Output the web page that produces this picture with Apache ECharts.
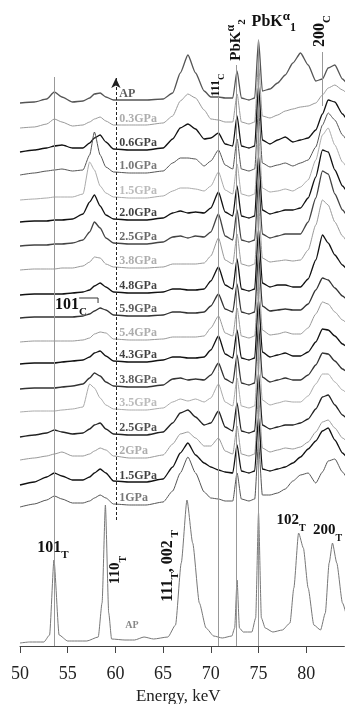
<!DOCTYPE html>
<html><head><meta charset="utf-8">
<script src="https://cdn.jsdelivr.net/npm/echarts@6/dist/echarts.min.js"></script>
<style>html,body{margin:0;padding:0;background:#fff}#c{width:345px;height:704px}</style>
</head><body><div id="c"></div>
<script>
// Energy grid (keV) shared by the stacked spectra
const energies = [50,51.5,52.8,53.6,54.4,55.5,56.6,57.3,57.8,58.4,59.0,59.8,61.5,63.2,65.0,66.0,66.8,67.6,68.4,69.3,70.0,70.8,71.5,72.3,72.75,73.2,74.0,74.6,75.0,75.4,76.2,77.0,77.8,78.6,79.4,80.2,81.0,81.7,82.3,83.0,83.8,84.6,85.4];
const curveNames = ['AP','0.3GPa','0.6GPa','1.0GPa','1.5GPa','2.0GPa','2.5GPa','3.8GPa','4.8GPa','5.9GPa','5.4GPa','4.3GPa','3.8GPa','3.5GPa','2.5GPa','2GPa','1.5GPa','1GPa'];
const offsets = [543,518,494,471,446,424,400,376,351,328,304,282,257,234,209,186,161,139];
const curveColors = ['#333','#999','#111','#555','#aaa','#111','#444','#999','#111','#333','#999','#111','#333','#aaa','#222','#999','#111','#555'];
// Intensities (above each spectrum's own baseline)
const sAP   = [0,1,4,11,6,1,2,5,9,10,6,3,3,3,4,10,30,48,30,12,6,6,5,5,32,5,3,5,63,12,14,20,28,40,50,38,22,24,35,38,24,16,12];
const s03   = [0,1,4,9,6,2,3,6,9,11,7,3,3,3,5,12,27,34,30,18,9,8,6,6,34,6,4,6,64,12,10,13,17,19,21,22,25,33,40,43,38,32,27];
const s06   = [0,2,4,6,7,4,4,9,14,17,10,3,2,2,4,13,24,28,23,13,14,19,8,6,36,6,4,6,66,12,8,12,15,10,12,14,22,38,52,50,38,28,22];
const s10   = [0,2,4,5,6,4,5,20,43,20,8,3,2,2,4,12,17,17,16,9,14,25,10,6,36,6,4,6,66,12,8,10,12,9,12,15,28,50,62,55,40,30,24];
const s15   = [0,1,2,3,3,3,6,38,30,14,7,3,2,2,4,9,12,12,11,9,14,28,10,6,36,6,4,6,66,12,8,9,11,9,13,20,40,65,72,55,38,28,22];
const s20   = [0,1,1,2,2,3,8,20,27,16,7,3,2,2,4,9,11,9,10,9,14,30,10,6,36,6,4,6,66,12,8,10,12,12,14,24,45,72,70,52,36,26,20];
const s25   = [0,1,1,2,2,3,6,14,24,18,8,3,2,2,4,9,10,8,10,9,14,32,10,6,36,6,4,6,66,12,8,10,12,12,12,24,48,75,72,52,36,26,20];
const s38   = [0,1,1,1,2,2,4,8,13,12,6,3,2,2,3,6,6,6,6,7,14,32,10,6,36,6,4,6,66,12,8,9,10,9,10,20,45,70,65,48,34,24,18];
const s48   = [0,1,1,1,1,2,3,5,9,12,8,3,2,2,3,6,6,5,5,6,14,28,10,6,36,6,4,6,66,12,8,10,10,8,8,16,35,60,52,40,30,22,16];
const s59   = [0,1,1,1,1,1,2,4,7,10,8,3,2,2,3,6,6,5,5,6,12,24,9,6,34,6,4,6,64,12,7,8,9,8,8,14,28,40,38,30,22,16,12];
const s54   = [0,1,1,1,1,1,2,4,8,10,9,3,2,2,3,5,5,5,5,6,14,26,9,6,34,6,4,6,64,12,7,8,10,8,8,14,28,40,38,30,22,16,12];
const s43   = [0,1,1,1,2,3,4,7,11,13,8,3,2,2,4,7,7,6,6,7,14,28,10,6,34,6,4,6,64,12,7,9,11,8,8,12,22,35,34,28,20,15,12];
const s38b  = [0,1,1,1,2,3,5,11,16,13,7,3,2,2,4,10,11,9,10,9,14,26,10,6,34,6,4,6,64,12,7,9,11,9,9,14,24,36,35,28,20,15,12];
const s35   = [0,1,1,1,2,3,5,28,24,14,7,3,2,2,4,10,13,11,13,10,14,28,10,6,34,6,4,6,64,12,7,9,11,10,10,16,28,38,38,30,22,16,12];
const s25b  = [0,2,4,7,5,3,4,8,12,14,8,3,2,2,5,14,24,27,20,12,14,26,10,6,34,6,4,6,64,12,8,10,12,12,14,18,28,40,42,32,22,16,12];
const s2    = [0,2,4,6,8,4,4,6,9,12,10,4,2,2,5,16,26,28,22,14,14,22,9,6,34,6,4,6,64,12,8,10,12,11,13,18,28,38,40,32,22,16,12];
const s15b  = [0,3,8,12,9,5,5,8,12,16,12,4,3,3,6,18,32,42,30,22,18,15,13,12,40,14,12,14,68,16,14,16,18,22,28,36,44,54,57,45,32,24,18];
const s1    = [0,3,7,11,8,4,4,6,9,12,9,3,2,2,5,16,34,50,34,15,9,8,6,6,34,8,6,8,64,12,12,14,18,26,32,34,24,35,46,48,35,24,18];
const spectra = [sAP,s03,s06,s10,s15,s20,s25,s38,s48,s59,s54,s43,s38b,s35,s25b,s2,s15b,s1];
// Bottom ambient-pressure spectrum: [keV, intensity]
const apBottom = [[50,0],[51,1],[52.5,1],[53.1,8],[53.56,83],[54.1,8],[55,2],[57,2],[58.2,6],[58.6,40],[58.95,138],[59.3,30],[59.6,4],[61,3],[62,3],[63,6],[64,4],[65.5,6],[66.3,18],[66.9,80],[67.5,143],[68.1,100],[68.8,40],[69.5,15],[70.3,7],[71.2,5],[72.2,7],[72.5,15],[72.75,63],[73.0,15],[73.4,11],[74.3,11],[74.7,25],[75.0,130],[75.3,25],[75.7,15],[76.5,11],[77.5,13],[78.3,20],[78.7,55],[79.2,110],[79.7,95],[80.2,55],[80.8,18],[81.5,13],[82.0,30],[82.4,80],[82.75,100],[83.2,80],[83.8,40],[84.5,20],[85.5,15]];
const apBottomOffset = 3;
// Reference lines: energy, from, to (intensity-axis units)
const refLines = [[49.9,0,606],[53.56,0,569],[70.8,0,549],[72.7,0,581],[75.0,0,606],[81.7,540,594]];
const arrowLine = [60.05,126,568];
const xTicks = [50,55,60,65,70,75,80];

const chart = echarts.init(document.getElementById('c'), null, {renderer:'canvas'});
const SERIF = 'Liberation Serif';
const series = [];
spectra.forEach((s,i)=>{
  const dark = ['#111','#222','#333','#444'].includes(curveColors[i]);
  series.push({type:'line', data: energies.map((e,j)=>[e, offsets[i]+s[j]]), showSymbol:false,
    smooth:0.2, smoothMonotone:'x', lineStyle:{color:i===0?'#555':curveColors[i], width: dark?1.3:1}, z: 3, silent:true});
});
series.push({type:'line', data: apBottom.map(p=>[p[0], apBottomOffset+p[1]]), showSymbol:false, smooth:0.2, smoothMonotone:'x',
  lineStyle:{color:'#777', width:1}, z:3, silent:true,
  markLine:{silent:true, animation:false, symbol:['none','none'], label:{show:false},
    lineStyle:{color:'#999', width:1, type:'solid'},
    data: refLines.map(r=>[{coord:[r[0],r[1]]},{coord:[r[0],r[2]]}]).concat([[
      {coord:[arrowLine[0],arrowLine[1]], symbol:'none', lineStyle:{color:'#222', type:[3,2], width:1}},
      {coord:[arrowLine[0],arrowLine[2]], symbol:'arrow', symbolSize:[7,10], lineStyle:{color:'#222', type:[3,2], width:1}}
    ]])
  }});
series.push({type:'scatter', symbolSize:0, z:5, silent:true,
  data: curveNames.map((n,i)=>({value:[60.3, offsets[i]+9], label:{color:curveColors[i]}})),
  label:{show:true, position:'right', distance:1, fontFamily:SERIF, fontWeight:'bold', fontSize:12,
    formatter: p=>curveNames[p.dataIndex]}});

chart.setOption({
  animation:false,
  grid:{left:20, top:0, right:0.6, height:646, outerBoundsMode:'none', containLabel:false},
  xAxis:{type:'value', min:50, max:84, interval:5,
    axisLine:{lineStyle:{color:'#444', width:1}},
    axisTick:{length:7, lineStyle:{color:'#444'}},
    axisLabel:{fontFamily:SERIF, fontSize:18, color:'#222', margin:19, showMaxLabel:false, formatter:v=>xTicks.includes(v)?String(v):''},
    splitLine:{show:false},
    name:'Energy, keV', nameLocation:'middle', nameGap:41,
    nameTextStyle:{fontFamily:SERIF, fontSize:17, color:'#222', padding:[0,8,0,0]}},
  yAxis:{type:'value', min:0, max:646, show:false},
  series
});

function P(e,v){return chart.convertToPixel({gridIndex:0},[e,v]);}
const B = (sz)=>({fontFamily:SERIF, fontWeight:'bold', fontSize:sz, fill:'#111'});
function sub(main, s, sz, ssz){
  return {text:'{m|'+main+'}{s|'+s+'}', rich:{m:Object.assign(B(sz),{lineHeight:sz+5, verticalAlign:'top'}), s:Object.assign(B(ssz),{lineHeight:sz+5, verticalAlign:'bottom'})}};
}
function pb(n, sz){
  return {text:'{m|PbK}{a|α}{s|'+n+'}', rich:{m:Object.assign(B(sz),{lineHeight:sz+8, verticalAlign:'middle'}), a:Object.assign(B(sz-3),{lineHeight:sz+8, verticalAlign:'top'}), s:Object.assign(B(sz-4),{lineHeight:sz+8, verticalAlign:'bottom'})}};
}
const g = [];
function txt(e,v,style,opts,align){const p=P(e,v); g.push(Object.assign({type:'text', x:p[0], y:p[1], z:50, style:Object.assign({align:align||'center', verticalAlign:'middle'}, style)}, opts||{}));}
txt(53.67,339, sub('101','C',16,11), null, 'left');
{ const a=P(56.2,348), b=P(58.18,348), c=P(58.18,343);
  g.push({type:'polyline', z:50, shape:{points:[a,b,c]}, style:{stroke:'#333', lineWidth:1, fill:null}}); }
txt(70.76,561, sub('111','C',12,9), {rotation:Math.PI/2});
txt(72.64,606, pb('2',15), {rotation:Math.PI/2});
txt(76.6,624, pb('1',16));
txt(81.66,615, sub('200','C',16,11), {rotation:Math.PI/2});
txt(53.46,96, sub('101','T',16,11));
txt(60.27,76, sub('110','T',15,10), {rotation:Math.PI/2});
txt(65.72,80, {text:'{m|111}{s|T}{m|, 002}{s| T}', rich:{m:Object.assign(B(16),{lineHeight:21, verticalAlign:'top'}), s:Object.assign(B(11),{lineHeight:21, verticalAlign:'bottom'})}}, {rotation:Math.PI/2});
txt(61.74,21, {text:'AP', fontFamily:SERIF, fontWeight:'bold', fontSize:10, fill:'#888'});
txt(78.4,123, sub('102','T',15,10));
txt(80.71,113, sub('200','T',15,10), null, 'left');
chart.setOption({graphic:g});
</script></body></html>
